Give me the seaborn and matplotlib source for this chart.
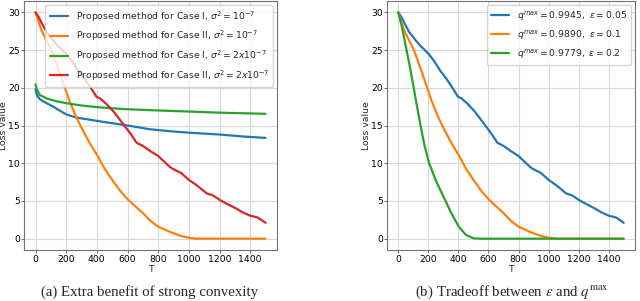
import matplotlib
matplotlib.use("Agg")
import matplotlib.pyplot as plt
import seaborn as sns
import pandas as pd

# ---------------- data ----------------
# Panel (a)
T_case1_s1 = [0, 10, 28, 50, 115, 202, 268, 420, 600, 747, 900, 1000, 1204, 1350, 1500]
loss_case1_s1 = [19.8, 19.0, 18.5, 18.2, 17.5, 16.45, 16.05, 15.55, 15.0, 14.5, 14.2, 14.05, 13.8, 13.55, 13.35]

T_case2_s1 = [0, 39, 104, 160, 219, 268, 300, 350, 404, 450, 500, 550, 600, 650, 700, 747, 800,
              877, 950, 1008, 1050, 1500]
loss_case2_s1 = [30.0, 27.6, 25.0, 21.9, 18.4, 16.0, 14.7, 12.8, 11.0, 9.3, 7.8, 6.4, 5.25, 4.3, 3.4,
                 2.4, 1.6, 0.9, 0.35, 0.1, 0.0, 0.0]

T_case1_s2 = [0, 10, 28, 72, 130, 202, 300, 420, 600, 856, 1000, 1200, 1500]
loss_case1_s2 = [20.45, 19.7, 19.05, 18.6, 18.25, 17.95, 17.65, 17.4, 17.15, 16.95, 16.85, 16.7, 16.55]

T_case2_s2 = [0, 20, 40, 72, 115, 150, 202, 240, 278, 320, 360, 398, 420, 460, 507, 545, 583, 620,
              660, 700, 750, 800, 877, 900, 950, 1000, 1050, 1117, 1160, 1204, 1250, 1313, 1350,
              1400, 1450, 1500]
loss_case2_s2 = [30.0, 29.4, 28.6, 27.4, 26.3, 25.5, 24.5, 23.5, 22.3, 21.2, 20.0, 18.8, 18.6, 17.9,
                 16.9, 15.9, 14.9, 13.9, 12.7, 12.3, 11.6, 10.95, 9.5, 9.2, 8.7, 7.8, 7.1, 6.0, 5.7,
                 5.1, 4.6, 3.95, 3.5, 3.05, 2.8, 2.1]

labels_a = [r"Proposed method for Case I, $\sigma^2=10^{-7}$",
            r"Proposed method for Case II, $\sigma^2=10^{-7}$",
            r"Proposed method for Case I, $\sigma^2=2x10^{-7}$",
            r"Proposed method for Case II, $\sigma^2=2x10^{-7}$"]

# Panel (b)
T_eps005 = T_case2_s2
loss_eps005 = loss_case2_s2
T_eps01 = T_case2_s1
loss_eps01 = loss_case2_s1
T_eps02 = [0, 25, 50, 75, 100, 125, 150, 175, 204, 250, 300, 350, 402, 450, 500, 550, 1500]
loss_eps02 = [30.0, 28.0, 25.5, 23.0, 20.3, 17.5, 14.8, 12.3, 10.1, 7.7, 5.6, 3.5, 1.6, 0.5, 0.05, 0.0, 0.0]

labels_b = [r"$q^{max}=0.9945,\ \epsilon=0.05$",
            r"$q^{max}=0.9890,\ \epsilon=0.1$",
            r"$q^{max}=0.9779,\ \epsilon=0.2$"]

captions = ["(a) Extra benefit of strong convexity",
            r"(b) Tradeoff between $\varepsilon$ and $q^{\mathrm{max}}$"]

x_ticks = [0, 200, 400, 600, 800, 1000, 1200, 1400]
y_ticks = [0, 5, 10, 15, 20, 25, 30]

colors = ["#1f77b4", "#ff7f0e", "#2ca02c", "#d62728"]


def long_frame(series, labels):
    rows = []
    for (t, v), lab in zip(series, labels):
        rows.append(pd.DataFrame({"T": t, "loss": v, "series": lab}))
    return pd.concat(rows, ignore_index=True)


df_a = long_frame([(T_case1_s1, loss_case1_s1), (T_case2_s1, loss_case2_s1),
                   (T_case1_s2, loss_case1_s2), (T_case2_s2, loss_case2_s2)], labels_a)
df_b = long_frame([(T_eps005, loss_eps005), (T_eps01, loss_eps01),
                   (T_eps02, loss_eps02)], labels_b)

# ---------------- style ----------------
sns.set_style("ticks")
FS = 6.7
plt.rcParams.update({
    "font.family": ["DejaVu Sans"],
    "axes.edgecolor": "0.45",
    "axes.linewidth": 0.8,
    "xtick.color": "0.45",
    "ytick.color": "0.45",
    "xtick.labelcolor": "black",
    "ytick.labelcolor": "black",
    "xtick.labelsize": FS,
    "ytick.labelsize": FS,
    "axes.labelsize": FS,
    "legend.fontsize": 6.7,
    "xtick.major.size": 2,
    "ytick.major.size": 2,
    "xtick.major.pad": 1.5,
    "ytick.major.pad": 1.0,
})

fig = plt.figure(figsize=(6.4, 3.01), dpi=100)
ax_a = fig.add_axes([24 / 640, 51 / 301, 253 / 640, 249 / 301])
ax_b = fig.add_axes([387 / 640, 51 / 301, 248 / 640, 249 / 301])

for ax, df, labels, pal, lab_x in [(ax_a, df_a, labels_a, colors, (8.5 - 24) / 253),
                                   (ax_b, df_b, labels_b, colors[:3], (371 - 387) / 248)]:
    sns.lineplot(data=df, x="T", y="loss", hue="series", hue_order=labels,
                 palette=pal, linewidth=1.6, ax=ax, sort=False, estimator=None)
    ax.set_xticks(x_ticks)
    ax.set_yticks(y_ticks)
    ax.set_xlim(-75, 1575)
    ax.set_ylim(-1.5, 31.5)
    ax.grid(True, color="#d8d8d8", linewidth=0.8)
    ax.set_axisbelow(True)
    ax.set_xlabel("T", labelpad=1)
    ax.set_ylabel("Loss value")
    ax.yaxis.set_label_coords(lab_x, 0.5)
    for s in ax.spines.values():
        s.set_visible(True)
    leg = ax.legend(loc="upper right", handlelength=2.0, borderpad=0.45,
                    labelspacing=0.55, handletextpad=0.8, framealpha=0.8,
                    borderaxespad=0.4)
    leg.get_frame().set_edgecolor("0.8")

fig.text(150 / 640, 1 - 292 / 301, captions[0], ha="center", va="center",
         family="Liberation Serif", fontsize=10.7, math_fontfamily="stix")
fig.text(512 / 640, 1 - 292 / 301, captions[1], ha="center", va="center",
         family="Liberation Serif", fontsize=10.7, math_fontfamily="stix")

fig.savefig("out.png", dpi=100)
